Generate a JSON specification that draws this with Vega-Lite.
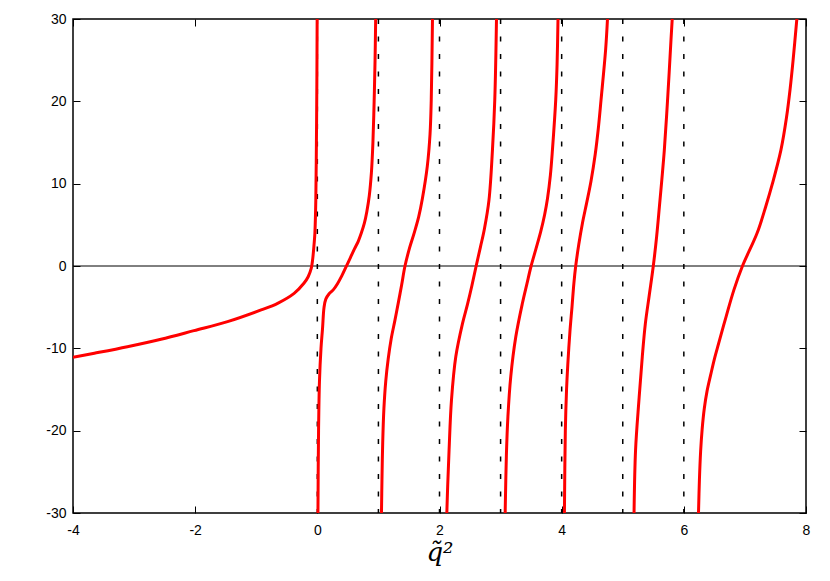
{
  "$schema": "https://vega.github.io/schema/vega-lite/v6.json",
  "width": 733,
  "height": 494,
  "autosize": "none",
  "padding": {"left": 73, "top": 19, "right": 24, "bottom": 68},
  "background": "white",
  "config": {
    "view": {"stroke": "black", "strokeWidth": 1.5},
    "axis": {
      "labelFont": "Liberation Sans",
      "labelFontSize": 14,
      "labelColor": "black",
      "labelFlush": false,
      "labelExpr": "replace(datum.label, '\u2212', '-')",
      "domain": false,
      "grid": false,
      "tickColor": "black",
      "tickWidth": 1,
      "tickSize": -7
    }
  },
  "datasets": {
    "curves": [
      {"b": 1, "x": -4, "y": -11.1}, {"b": 1, "x": -3.65, "y": -10.6}, {"b": 1, "x": -3.11, "y": -9.8}, {"b": 1, "x": -2.56, "y": -8.9}, {"b": 1, "x": -2.02, "y": -7.85}, {"b": 1, "x": -1.47, "y": -6.76}, {"b": 1, "x": -0.92, "y": -5.34}, {"b": 1, "x": -0.65, "y": -4.53}, {"b": 1, "x": -0.38, "y": -3.32}, {"b": 1, "x": -0.22, "y": -2.1}, {"b": 1, "x": -0.15, "y": -1.3}, {"b": 1, "x": -0.1, "y": -0.3}, {"b": 1, "x": -0.075, "y": 0.9}, {"b": 1, "x": -0.055, "y": 2.5}, {"b": 1, "x": -0.04, "y": 4}, {"b": 1, "x": -0.025, "y": 8}, {"b": 1, "x": -0.015, "y": 15}, {"b": 1, "x": -0.008, "y": 22}, {"b": 1, "x": -0.003, "y": 30},
      {"b": 2, "x": 0.01, "y": -30}, {"b": 2, "x": 0.02, "y": -20}, {"b": 2, "x": 0.035, "y": -14}, {"b": 2, "x": 0.06, "y": -10}, {"b": 2, "x": 0.085, "y": -7.6}, {"b": 2, "x": 0.11, "y": -5.0}, {"b": 2, "x": 0.14, "y": -4.0}, {"b": 2, "x": 0.19, "y": -3.4}, {"b": 2, "x": 0.26, "y": -2.9}, {"b": 2, "x": 0.33, "y": -2.15}, {"b": 2, "x": 0.4, "y": -1.2}, {"b": 2, "x": 0.47, "y": -0.1}, {"b": 2, "x": 0.54, "y": 1.0}, {"b": 2, "x": 0.61, "y": 2.1}, {"b": 2, "x": 0.67, "y": 3.0}, {"b": 2, "x": 0.72, "y": 4.0}, {"b": 2, "x": 0.77, "y": 5.2}, {"b": 2, "x": 0.81, "y": 6.6}, {"b": 2, "x": 0.85, "y": 8.5}, {"b": 2, "x": 0.885, "y": 11.3}, {"b": 2, "x": 0.91, "y": 15}, {"b": 2, "x": 0.93, "y": 20}, {"b": 2, "x": 0.945, "y": 25}, {"b": 2, "x": 0.955, "y": 30},
      {"b": 3, "x": 1.05, "y": -30}, {"b": 3, "x": 1.058, "y": -26}, {"b": 3, "x": 1.07, "y": -21.5}, {"b": 3, "x": 1.09, "y": -17.3}, {"b": 3, "x": 1.12, "y": -14}, {"b": 3, "x": 1.16, "y": -11.3}, {"b": 3, "x": 1.21, "y": -8.8}, {"b": 3, "x": 1.27, "y": -6.6}, {"b": 3, "x": 1.33, "y": -4.3}, {"b": 3, "x": 1.38, "y": -2.3}, {"b": 3, "x": 1.435, "y": 0}, {"b": 3, "x": 1.51, "y": 2.2}, {"b": 3, "x": 1.585, "y": 4}, {"b": 3, "x": 1.66, "y": 6}, {"b": 3, "x": 1.72, "y": 8.2}, {"b": 3, "x": 1.8, "y": 12.1}, {"b": 3, "x": 1.845, "y": 16}, {"b": 3, "x": 1.865, "y": 20.2}, {"b": 3, "x": 1.885, "y": 30},
      {"b": 4, "x": 2.12, "y": -30}, {"b": 4, "x": 2.135, "y": -26.5}, {"b": 4, "x": 2.157, "y": -22.3}, {"b": 4, "x": 2.196, "y": -16.3}, {"b": 4, "x": 2.267, "y": -11}, {"b": 4, "x": 2.376, "y": -7}, {"b": 4, "x": 2.46, "y": -4.6}, {"b": 4, "x": 2.53, "y": -2.4}, {"b": 4, "x": 2.6, "y": 0}, {"b": 4, "x": 2.67, "y": 2.3}, {"b": 4, "x": 2.735, "y": 4.5}, {"b": 4, "x": 2.81, "y": 8}, {"b": 4, "x": 2.867, "y": 14.1}, {"b": 4, "x": 2.905, "y": 20.2}, {"b": 4, "x": 2.933, "y": 30},
      {"b": 5, "x": 3.075, "y": -30}, {"b": 5, "x": 3.095, "y": -23}, {"b": 5, "x": 3.12, "y": -18.3}, {"b": 5, "x": 3.167, "y": -13.4}, {"b": 5, "x": 3.249, "y": -8.6}, {"b": 5, "x": 3.358, "y": -4.5}, {"b": 5, "x": 3.43, "y": -2.2}, {"b": 5, "x": 3.5, "y": 0}, {"b": 5, "x": 3.58, "y": 2.1}, {"b": 5, "x": 3.658, "y": 4.2}, {"b": 5, "x": 3.72, "y": 6.2}, {"b": 5, "x": 3.768, "y": 8.2}, {"b": 5, "x": 3.815, "y": 11}, {"b": 5, "x": 3.849, "y": 14.1}, {"b": 5, "x": 3.903, "y": 20.2}, {"b": 5, "x": 3.925, "y": 24.5}, {"b": 5, "x": 3.94, "y": 30},
      {"b": 6, "x": 4.045, "y": -30}, {"b": 6, "x": 4.06, "y": -20}, {"b": 6, "x": 4.08, "y": -15}, {"b": 6, "x": 4.1, "y": -12}, {"b": 6, "x": 4.135, "y": -8}, {"b": 6, "x": 4.17, "y": -4.9}, {"b": 6, "x": 4.2, "y": -2.1}, {"b": 6, "x": 4.23, "y": 0}, {"b": 6, "x": 4.28, "y": 2.6}, {"b": 6, "x": 4.34, "y": 5.2}, {"b": 6, "x": 4.41, "y": 7.7}, {"b": 6, "x": 4.48, "y": 10.3}, {"b": 6, "x": 4.55, "y": 13.6}, {"b": 6, "x": 4.6, "y": 16.7}, {"b": 6, "x": 4.645, "y": 20.2}, {"b": 6, "x": 4.72, "y": 26.3}, {"b": 6, "x": 4.75, "y": 30},
      {"b": 7, "x": 5.185, "y": -30}, {"b": 7, "x": 5.21, "y": -22.3}, {"b": 7, "x": 5.265, "y": -16.3}, {"b": 7, "x": 5.32, "y": -11}, {"b": 7, "x": 5.37, "y": -7}, {"b": 7, "x": 5.435, "y": -3.5}, {"b": 7, "x": 5.5, "y": 0}, {"b": 7, "x": 5.555, "y": 3.6}, {"b": 7, "x": 5.6, "y": 7.2}, {"b": 7, "x": 5.64, "y": 10.5}, {"b": 7, "x": 5.68, "y": 14}, {"b": 7, "x": 5.72, "y": 18.5}, {"b": 7, "x": 5.76, "y": 23.5}, {"b": 7, "x": 5.79, "y": 27.5}, {"b": 7, "x": 5.81, "y": 30},
      {"b": 8, "x": 6.24, "y": -30}, {"b": 8, "x": 6.255, "y": -26}, {"b": 8, "x": 6.275, "y": -22.5}, {"b": 8, "x": 6.3, "y": -19.8}, {"b": 8, "x": 6.335, "y": -17.3}, {"b": 8, "x": 6.38, "y": -15.2}, {"b": 8, "x": 6.44, "y": -13.2}, {"b": 8, "x": 6.5, "y": -11.3}, {"b": 8, "x": 6.57, "y": -9.4}, {"b": 8, "x": 6.69, "y": -6.2}, {"b": 8, "x": 6.82, "y": -2.9}, {"b": 8, "x": 6.96, "y": 0}, {"b": 8, "x": 7.2, "y": 4.0}, {"b": 8, "x": 7.34, "y": 7.2}, {"b": 8, "x": 7.45, "y": 10.0}, {"b": 8, "x": 7.59, "y": 14.1}, {"b": 8, "x": 7.68, "y": 18}, {"b": 8, "x": 7.74, "y": 21.5}, {"b": 8, "x": 7.79, "y": 25.1}, {"b": 8, "x": 7.85, "y": 30}
    ],
    "poles": [{"x": 0}, {"x": 1}, {"x": 2}, {"x": 3}, {"x": 4}, {"x": 5}, {"x": 6}],
    "zero": [{"y": 0}]
  },
  "layer": [
    {
      "data": {"name": "poles"},
      "mark": {"type": "rule", "color": "black", "strokeWidth": 1.5, "strokeDash": [5, 12.5]},
      "encoding": {
        "x": {
          "field": "x", "type": "quantitative",
          "scale": {"domain": [-4, 8], "nice": false, "zero": false},
          "axis": {
            "orient": "bottom",
            "values": [-4, -2, 0, 2, 4, 6, 8],
            "labelPadding": 17,
            "title": "q\u0303\u00b2",
            "titleFont": "DejaVu Serif",
            "titleFontStyle": "italic",
            "titleFontWeight": "normal",
            "titleFontSize": 26,
            "titleColor": "black",
            "titlePadding": 2
          }
        }
      }
    },
    {
      "data": {"name": "zero"},
      "mark": {"type": "rule", "color": "black", "strokeWidth": 1},
      "encoding": {
        "y": {
          "field": "y", "type": "quantitative",
          "scale": {"domain": [-30, 30], "nice": false},
          "axis": {
            "orient": "left",
            "values": [-30, -20, -10, 0, 10, 20, 30],
            "labelPadding": 14,
            "title": null
          }
        }
      }
    },
    {
      "data": {"name": "curves"},
      "mark": {"type": "line", "color": "#ff0000", "strokeWidth": 3, "interpolate": "catmull-rom", "clip": true},
      "encoding": {
        "x": {
          "field": "x", "type": "quantitative",
          "scale": {"domain": [-4, 8], "nice": false, "zero": false},
          "axis": {"orient": "top", "values": [-4, -2, 0, 2, 4, 6, 8], "labels": false, "title": null}
        },
        "y": {
          "field": "y", "type": "quantitative",
          "scale": {"domain": [-30, 30], "nice": false},
          "axis": {"orient": "right", "values": [-30, -20, -10, 0, 10, 20, 30], "labels": false, "title": null}
        },
        "detail": {"field": "b", "type": "nominal"}
      }
    }
  ],
  "resolve": {"axis": {"x": "independent", "y": "independent"}}
}
